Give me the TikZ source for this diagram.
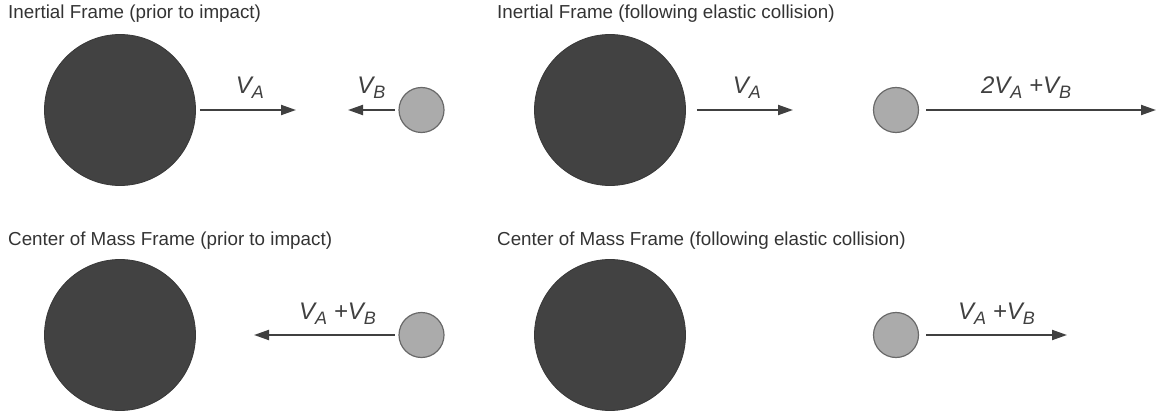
\documentclass[tikz,border=0pt]{standalone}
\usepackage{fontspec}
\setmainfont{Liberation Sans}
\usetikzlibrary{arrows.meta,positioning}
\definecolor{bigball}{RGB}{66,66,66}
\definecolor{smallball}{RGB}{171,171,171}
\definecolor{rimgray}{RGB}{105,105,105}
\definecolor{ink}{RGB}{64,64,64}
\definecolor{titleink}{RGB}{51,51,51}
\newcommand{\vsub}[2]{#1\raisebox{-5pt}{\fontsize{18}{18}\selectfont #2}}

\begin{document}
\begin{tikzpicture}[x=1pt,y=-1pt,
  heavy/.style={circle,fill=bigball,draw=bigball!85!black,line width=0.8pt,minimum size=151pt,inner sep=0pt},
  light/.style={circle,fill=smallball,draw=rimgray,line width=1.2pt,minimum size=45pt,inner sep=0pt},
  vel/.style={ink,line width=2pt,-{Triangle[length=15pt,width=10pt]}},
  frametitle/.style={anchor=west,inner sep=0pt,text=titleink,font=\fontsize{18.8}{22}\selectfont},
  vlabel/.style={midway,above=10pt,inner sep=0pt,text=ink,font=\fontsize{24}{28}\selectfont\itshape}]
  \useasboundingbox (0,0) rectangle (1156,414);
  % inertial frame, before
  \node[frametitle] (t1) at (8,14) {Inertial Frame (prior to impact)};
  \node[heavy] (A1) at (120,110) {};
  \node[light] (B1) at (421.5,110) {};
  \coordinate (A1tip) at (296,110);
  \coordinate (B1tip) at (348,110);
  \draw[vel] ([xshift=4pt]A1.east) -- (A1tip) node[vlabel,xshift=2pt]{\vsub{V}{A}};
  \draw[vel] ([xshift=-3.5pt]B1.west) -- (B1tip) node[vlabel]{\vsub{V}{B}};
  % inertial frame, after
  \node[frametitle] (t2) at (497,14) {Inertial Frame (following elastic collision)};
  \node[heavy] (A2) at (610,110) {};
  \node[light] (B2) at (896,110) {};
  \coordinate (A2tip) at (793,110);
  \coordinate (B2tip) at (1156,110);
  \draw[vel] ([xshift=11pt]A2.east) -- (A2tip) node[vlabel,xshift=2pt]{\vsub{V}{A}};
  \draw[vel] ([xshift=7pt]B2.east) -- (B2tip) node[vlabel,xshift=-15pt]{2\vsub{V}{A} +\vsub{V}{B}};
  % center of mass frame, before
  \node[frametitle] (t3) at (8,241) {Center of Mass Frame (prior to impact)};
  \node[heavy] (A3) at (120,335) {};
  \node[light] (B3) at (421.5,335) {};
  \coordinate (B3tip) at (254,335);
  \draw[vel] ([xshift=-3.5pt]B3.west) -- (B3tip) node[vlabel,xshift=13pt]{\vsub{V}{A} +\vsub{V}{B}};
  % center of mass frame, after
  \node[frametitle] (t4) at (497,241) {Center of Mass Frame (following elastic collision)};
  \node[heavy] (A4) at (610,335) {};
  \node[light] (B4) at (896,335) {};
  \coordinate (B4tip) at (1067,335);
  \draw[vel] ([xshift=7pt]B4.east) -- (B4tip) node[vlabel]{\vsub{V}{A} +\vsub{V}{B}};
\end{tikzpicture}
\end{document}
